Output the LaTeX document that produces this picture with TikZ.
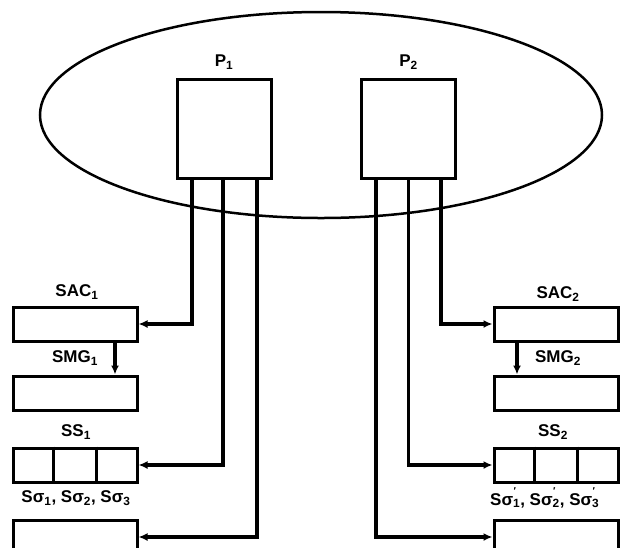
\documentclass[tikz,border=0pt]{standalone}
\usepackage{fontspec}
\setmainfont{Liberation Sans}
\usetikzlibrary{arrows.meta,calc}
\newcommand{\sgp}[1]{Sσ\rlap{\raisebox{0.6em}{\fontsize{10}{10}\selectfont\kern0.5pt′}}\textsubscript{#1}}
\tikzset{
  box/.style={draw, line width=3pt, minimum width=124pt, minimum height=34pt, inner sep=0pt},
  proc/.style={draw, line width=3pt, minimum width=94pt, minimum height=99pt, inner sep=0pt},
  wire/.style={line width=3.5pt, -{Latex[length=9pt,width=8pt]}},
  lbl/.style={font=\fontsize{17}{20}\selectfont\bfseries, inner sep=0pt}
}
\begin{document}
\begin{tikzpicture}[x=1pt,y=-1pt]
    \clip (0,0) rectangle (623,547);
    \draw[line width=2.5pt] (321,115) ellipse [x radius=281, y radius=103];

    % processors
    \node[proc] (p1) at (224,128.5) {};
    \node[proc] (p2) at (408.5,128.5) {};
    \node[lbl] at (224,62) {P\textsubscript{1}};
    \node[lbl] at (408.5,62) {P\textsubscript{2}};

    % left side
    \node[box] (sac1) at (75,324) {};
    \node[box] (mem1) at (75,393) {};
    \node[box] (ss1) at (75,465) {};
    \node[box] (out1) at (75,537) {};
    \node[lbl] at (77,292) {SAC\textsubscript{1}};
    \node[lbl] at (75,358) {SMG\textsubscript{1}};
    \node[lbl] at (76,432) {SS\textsubscript{1}};
    \node[lbl] at (76,498) {Sσ\textsubscript{1}, Sσ\textsubscript{2}, Sσ\textsubscript{3}};
    \foreach \f in {1/3,2/3}
        \draw[line width=3pt] ($(ss1.north west)!\f!(ss1.north east)$) -- ($(ss1.south west)!\f!(ss1.south east)$);

    % right side
    \node[box] (sac2) at (556,324) {};
    \node[box] (mem2) at (556,393) {};
    \node[box] (ss2) at (556,465) {};
    \node[box] (out2) at (556,537) {};
    \node[lbl] at (558,294) {SAC\textsubscript{2}};
    \node[lbl] at (558,358) {SMG\textsubscript{2}};
    \node[lbl] at (553,432) {SS\textsubscript{2}};
    \node[lbl, anchor=west] at (490,498) {\sgp{1}, \sgp{2}, \sgp{3}};
    \foreach \f in {1/3,2/3}
        \draw[line width=3pt] ($(ss2.north west)!\f!(ss2.north east)$) -- ($(ss2.south west)!\f!(ss2.south east)$);

    % connections
    \draw[wire] ([xshift=-32pt]p1.south) |- (sac1.east);
    \draw[wire] ([xshift=-1pt]p1.south) |- (ss1.east);
    \draw[wire] ([xshift=33pt]p1.south) |- (out1.east);
    \draw[wire] ([xshift=32.5pt]p2.south) |- (sac2.west);
    \draw[wire] (p2.south) |- (ss2.west);
    \draw[wire] ([xshift=-32.5pt]p2.south) |- (out2.west);
    \draw[wire] ([xshift=40pt]sac1.south) -- ([xshift=40pt]mem1.north);
    \draw[wire] ([xshift=-39pt]sac2.south) -- ([xshift=-39pt]mem2.north);
\end{tikzpicture}
\end{document}
